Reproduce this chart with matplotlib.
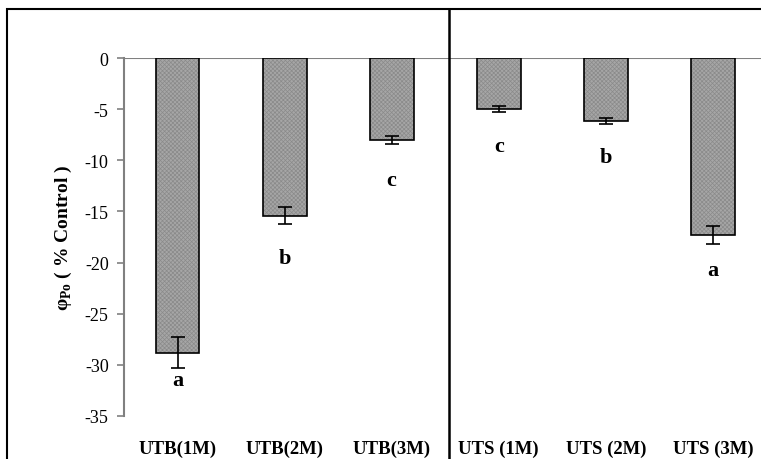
import matplotlib.pyplot as plt
from matplotlib.patches import Rectangle

# data
groups = ['UTB(1M)', 'UTB(2M)', 'UTB(3M)', 'UTS (1M)', 'UTS (2M)', 'UTS (3M)']
values = [-28.8, -15.4, -8.0, -5.0, -6.2, -17.3]
errors = [1.5, 0.8, 0.4, 0.3, 0.3, 0.9]
letters = ['a', 'b', 'c', 'c', 'b', 'a']
letter_y = [-31.5, -19.6, -11.9, -8.6, -9.7, -20.7]
yticks = [0, -5, -10, -15, -20, -25, -30, -35]

plt.rcParams['font.family'] = 'Liberation Serif'
plt.rcParams['mathtext.fontset'] = 'custom'
plt.rcParams['mathtext.rm'] = 'Liberation Serif:bold'
plt.rcParams['hatch.linewidth'] = 0.5

fig = plt.figure(figsize=(7.61, 4.6), dpi=100)
ax = fig.add_axes([124 / 761, 1 - 417 / 460, 1 - 124 / 761, (417 - 59) / 460])

x = list(range(len(groups)))
# hatched fill, then outline on top
ax.bar(x, values, width=0.41, color='#a6a6a6', hatch='xxxxxxxx', edgecolor='#8a8a8a', linewidth=0, zorder=2)
ax.bar(x, values, width=0.41, fill=False, edgecolor='black', linewidth=1.2, zorder=3)
ax.errorbar(x, values, yerr=errors, fmt='none', ecolor='black', elinewidth=1.2, capsize=5, capthick=1.2, zorder=4)

for xi, t, ly in zip(x, letters, letter_y):
    ax.text(xi, ly, t, ha='center', va='center', fontsize=16, fontweight='bold')

ax.set_xlim(-0.5, 5.45)
ax.set_ylim(-35, 0)
ax.set_yticks(yticks)
ax.set_yticklabels([str(v) for v in yticks], fontsize=13)
ax.set_xticks(x)
ax.set_xticklabels(groups, fontsize=13.5, fontweight='bold')
ax.tick_params(axis='x', length=0, pad=17)
ax.tick_params(axis='y', length=5, color='#808080', width=1.2, pad=6)

for s in ['top', 'right', 'bottom']:
    ax.spines[s].set_visible(False)
ax.spines['left'].set_color('#808080')
ax.spines['left'].set_linewidth(1.5)
ax.axhline(0, color='#808080', linewidth=1.5, zorder=1)

ax.set_ylabel('φ$_\\mathregular{Po}$ ( % Control )', fontsize=14, fontweight='bold', labelpad=8)

# vertical divider between the two groups, spanning the whole frame
ax.plot([2.54, 2.54], [-40, 4.8], color='black', linewidth=1.8, clip_on=False, zorder=5)

# outer frame of the figure
fig.patches.append(Rectangle((7 / 761, -0.05), 1.1, 1 - 10 / 460 + 0.05, transform=fig.transFigure,
                             fill=False, edgecolor='black', linewidth=1.5))

fig.savefig('out.png', dpi=100)
